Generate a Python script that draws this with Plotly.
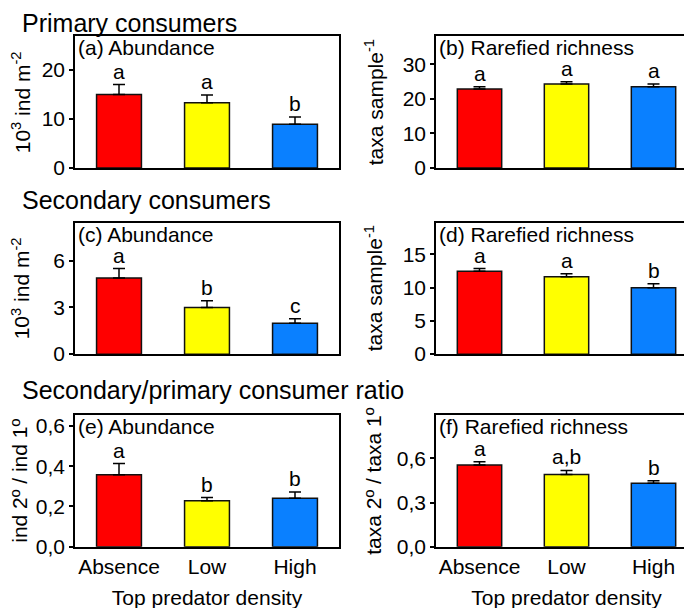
import plotly.graph_objects as go

categories = ["Absence", "Low", "High"]
colors = ["#FF0000", "#FFFF00", "#0A80FF"]

# values and upper standard errors
a_vals = [15.0, 13.3, 8.9]
a_err = [2.0, 1.6, 1.5]
a_letters = ["a", "a", "b"]

b_vals = [22.8, 24.3, 23.5]
b_err = [0.7, 0.6, 0.8]
b_letters = ["a", "a", "a"]

c_vals = [4.9, 3.0, 1.98]
c_err = [0.6, 0.43, 0.29]
c_letters = ["a", "b", "c"]

d_vals = [12.47, 11.63, 10.0]
d_err = [0.4, 0.47, 0.6]
d_letters = ["a", "a", "b"]

e_vals = [0.358, 0.229, 0.241]
e_err = [0.055, 0.015, 0.031]
e_letters = ["a", "b", "b"]

f_vals = [0.556, 0.491, 0.431]
f_err = [0.022, 0.027, 0.018]
f_letters = ["a", "a,b", "b"]

panels = [
    dict(vals=a_vals, err=a_err, letters=a_letters, label="(a) Abundance",
         ytitle="10<sup>3</sup> ind m<sup>-2</sup>", yrange=[0, 26.8], tickvals=[0, 10, 20], fmt=None, tx=13),
    dict(vals=b_vals, err=b_err, letters=b_letters, label="(b) Rarefied richness",
         ytitle="taxa sample<sup>-1</sup>", yrange=[0, 38.0], tickvals=[0, 10, 20, 30], fmt=None, tx=366),
    dict(vals=c_vals, err=c_err, letters=c_letters, label="(c) Abundance",
         ytitle="10<sup>3</sup> ind m<sup>-2</sup>", yrange=[0, 8.46], tickvals=[0, 3, 6], fmt=None, tx=13),
    dict(vals=d_vals, err=d_err, letters=d_letters, label="(d) Rarefied richness",
         ytitle="taxa sample<sup>-1</sup>", yrange=[0, 19.8], tickvals=[0, 5, 10, 15], fmt=None, tx=366),
    dict(vals=e_vals, err=e_err, letters=e_letters, label="(e) Abundance",
         ytitle="ind 2º / ind 1º", yrange=[0, 0.655], tickvals=[0, 0.2, 0.4, 0.6], fmt=".1f", tx=12),
    dict(vals=f_vals, err=f_err, letters=f_letters, label="(f) Rarefied richness",
         ytitle="taxa 2º / taxa 1º", yrange=[0, 0.896], tickvals=[0, 0.3, 0.6], fmt=".1f", tx=366),
]

W, H = 692, 608
col_x = [(67, 331), (428, 689)]
row_y = [(29, 163), (218.5, 352.5), (414.3, 548.7)]
section_titles = ["Primary consumers", "Secondary consumers", "Secondary/primary consumer ratio"]
section_y = [15, 196, 389]

FONT = "Liberation Sans, Arial, sans-serif"
FS = 21
fig = go.Figure()
layout = dict(
    width=W, height=H, margin=dict(l=0, r=0, t=0, b=0),
    paper_bgcolor="white", plot_bgcolor="white",
    showlegend=False, separators=",.",
    font=dict(family=FONT, size=FS, color="black"),
    annotations=[],
)

for i, p in enumerate(panels):
    r, c = divmod(i, 2)
    n = i + 1
    xa = "x" if n == 1 else f"x{n}"
    ya = "y" if n == 1 else f"y{n}"
    x0, x1 = col_x[c]
    y0, y1 = row_y[r]
    fig.add_trace(go.Bar(
        x=categories, y=p["vals"], xaxis=xa, yaxis=ya, width=0.51,
        marker=dict(color=colors, line=dict(color="#111111", width=1.5)),
        error_y=dict(type="data", symmetric=False, array=p["err"],
                     arrayminus=[0] * 3, color="black", thickness=1.5, width=6),
    ))
    bottom = r == 2
    xax = dict(
        domain=[x0 / W, x1 / W], anchor=ya, range=[-0.5, 2.5],
        showline=True, mirror=True, linecolor="black", linewidth=1.5,
        ticks="", showticklabels=bottom, showgrid=False, zeroline=False,
        tickfont=dict(size=FS),
    )
    if bottom:
        xax["title"] = dict(text="Top predator density", font=dict(size=FS), standoff=14)
    layout[f"xaxis{'' if n == 1 else n}"] = xax
    yax = dict(
        domain=[1 - y1 / H, 1 - y0 / H], anchor=xa, range=p["yrange"],
        showline=True, mirror=True, linecolor="black", linewidth=1.5,
        ticks="outside", ticklen=4, tickwidth=1.5, tickcolor="black",
        tickvals=p["tickvals"], showgrid=False, zeroline=False,
        tickfont=dict(size=FS),
    )
    if p["fmt"]:
        yax["tickformat"] = p["fmt"]
    layout[f"yaxis{'' if n == 1 else n}"] = yax
    # panel label
    layout["annotations"].append(dict(
        text=p["label"], xref=f"{xa} domain", yref=f"{ya} domain", x=0.0, y=1.0,
        xanchor="left", yanchor="top", showarrow=False, font=dict(size=FS),
        xshift=1, yshift=2,
    ))
    # y axis title
    layout["annotations"].append(dict(
        text=p["ytitle"], xref="paper", yref="paper", x=p["tx"] / W,
        y=1 - (y0 + y1) / 2 / H, textangle=-90, xanchor="center", yanchor="middle",
        showarrow=False, font=dict(size=FS),
    ))
    # significance letters
    for k in range(3):
        layout["annotations"].append(dict(
            text=p["letters"][k], xref=xa, yref=ya, x=categories[k],
            y=p["vals"][k] + p["err"][k], xanchor="center", yanchor="bottom",
            showarrow=False, font=dict(size=FS), yshift=0,
        ))

for t, yy in zip(section_titles, section_y):
    layout["annotations"].append(dict(
        text=t, xref="paper", yref="paper", x=12 / W, y=1 - yy / H,
        xanchor="left", yanchor="middle", showarrow=False, font=dict(size=25),
    ))

fig.update_layout(**layout)
fig.write_html("out.html")
